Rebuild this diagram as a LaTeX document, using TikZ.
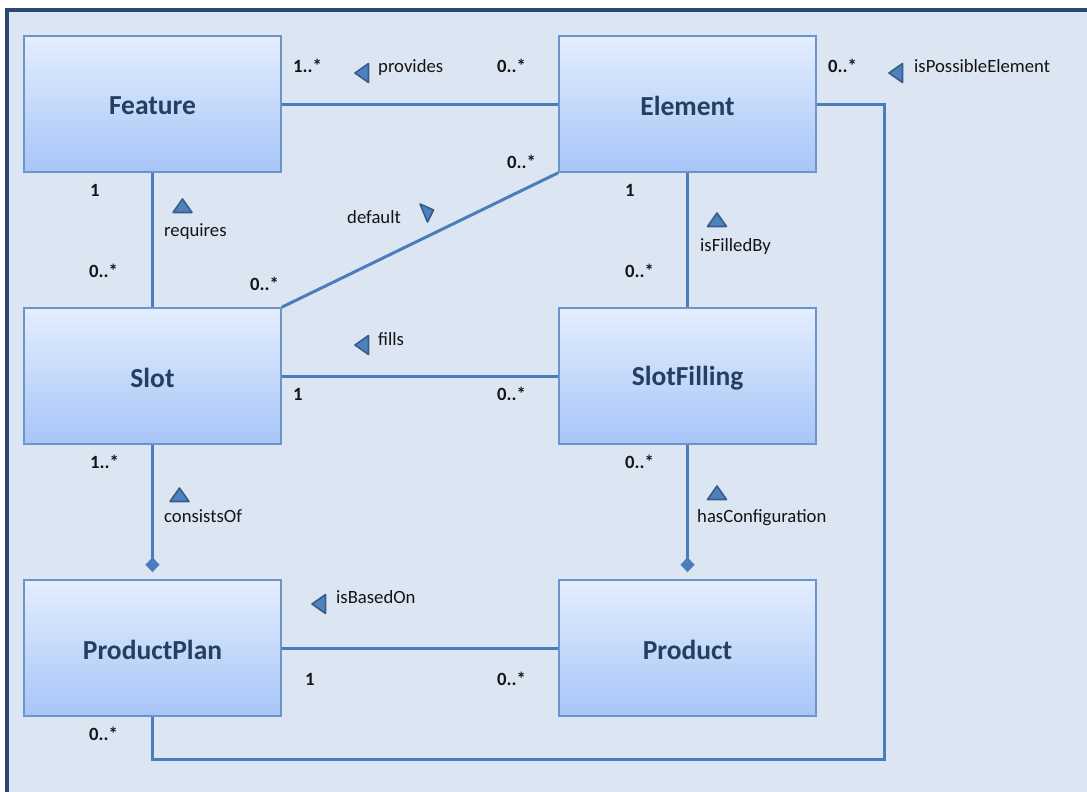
\documentclass[tikz,border=0pt]{standalone}
\usepackage{fontspec}
\setmainfont{Carlito}
\usetikzlibrary{arrows.meta}
\definecolor{panel}{HTML}{DCE6F2}
\definecolor{frame}{HTML}{2C4770}
\definecolor{wire}{HTML}{4A7EBB}
\definecolor{boxtop}{HTML}{E4EEFE}
\definecolor{boxbot}{HTML}{A6C5F7}
\definecolor{boxline}{HTML}{6C95CC}
\definecolor{title}{HTML}{243F60}
\definecolor{trifill}{HTML}{4F81BD}
\definecolor{triline}{HTML}{385D8A}
\definecolor{ink}{HTML}{141414}
\tikzset{
  classbox/.style={draw=boxline, line width=1.5pt, top color=boxtop, bottom color=boxbot,
    minimum width=257pt, minimum height=136pt, inner sep=0pt,
    label={[titletext]center:#1}},
  titletext/.style={yshift=-2pt, inner sep=0pt,
    font=\fontsize{27.5}{32}\selectfont\bfseries, text=title},
  assoc/.style={draw=wire, line width=3pt},
  comp/.style={assoc, shorten >=7pt, -{Diamond[length={15pt 0}, width={14pt 0}, fill=wire]}},
  lbl/.style={anchor=base west, inner sep=0pt, text=ink, font=\fontsize{18.7}{22}\selectfont},
  mult/.style={lbl, font=\fontsize{18.7}{22}\selectfont\bfseries},
  dirmark/.style={fill=trifill, draw=triline, line width=1.6pt, line join=round}
}
% reading-direction marker: points up in local coordinates, rotated as needed
\newcommand{\dirtri}[3]{%
  \draw[dirmark, shift={(#1,#2)}, rotate=#3] (0,-7) -- (9.5,6.5) -- (-9.5,6.5) -- cycle;}
\begin{document}
\begin{tikzpicture}[x=1pt, y=-1pt]
\useasboundingbox (0,0) rectangle (1087,792);
\begin{scope}
  \clip (0,0) rectangle (1087,792);
  \fill[white] (0,0) rectangle (1087,792);
  \draw[frame, fill=panel, line width=3.5pt] (7,10) rectangle (1110,820);
\end{scope}

% classes
\node[classbox=Feature] (feature) at (152.5,104) {};
\node[classbox=Element] (element) at (687.5,104) {};
\node[classbox=Slot] (slot) at (152.5,376) {};
\node[classbox=SlotFilling] (filling) at (687.5,376) {};
\node[classbox=ProductPlan] (plan) at (152.5,648) {};
\node[classbox=Product] (product) at (687.5,648) {};
\coordinate (loop) at (884,759);

% associations
\draw[assoc] (feature.east) -- (element.west);
\draw[assoc] (feature.south) -- (slot.north);
\draw[assoc] (slot.north east) -- (element.south west);
\draw[assoc] (element.south) -- (filling.north);
\draw[assoc] (slot.east) -- (filling.west);
\draw[assoc] (plan.east) -- (product.west);
\draw[assoc] (element.east) -| (loop) -| (plan.south);
\draw[comp] (slot.south) -- (plan.north);
\draw[comp] (filling.south) -- (product.north);

% provides
\node[mult] (m1) at (293,73) {1..*};
\node[mult] (m2) at (497,73) {0..*};
\dirtri{362}{73}{90}
\node[lbl] (t1) at (378,73) {provides};

% isPossibleElement
\node[mult] (m3) at (828,73) {0..*};
\dirtri{896}{73}{90}
\node[lbl] (t2) at (914,73) {isPossibleElement};

% requires
\node[mult] (m4) at (90,196) {1};
\dirtri{182.5}{206}{0}
\node[lbl] (t3) at (164,236) {requires};
\node[mult] (m5) at (89,277) {0..*};

% default
\node[lbl] (t4) at (347,223) {default};
\draw[dirmark] (420,204) -- (433.5,210) -- (427.5,222) -- cycle;
\node[mult] (m6) at (507,168) {0..*};
\node[mult] (m7) at (250,290) {0..*};

% isFilledBy
\node[mult] (m8) at (625,196) {1};
\dirtri{717}{220}{0}
\node[lbl] (t5) at (700,251) {isFilledBy};
\node[mult] (m9) at (625,277) {0..*};

% fills
\dirtri{362}{345}{90}
\node[lbl] (t6) at (378,345) {fills};
\node[mult] (m10) at (293,400) {1};
\node[mult] (m11) at (497,400) {0..*};

% consistsOf
\node[mult] (m12) at (90,468) {1..*};
\dirtri{179.5}{495}{0}
\node[lbl] (t7) at (164,522) {consistsOf};

% hasConfiguration
\node[mult] (m13) at (625,468) {0..*};
\dirtri{717}{493}{0}
\node[lbl] (t8) at (697,522) {hasConfiguration};

% isBasedOn
\dirtri{319}{604}{90}
\node[lbl] (t9) at (336,603) {isBasedOn};
\node[mult] (m14) at (305,685) {1};
\node[mult] (m15) at (497,685) {0..*};

\node[mult] (m16) at (89,740) {0..*};
\end{tikzpicture}
\end{document}
